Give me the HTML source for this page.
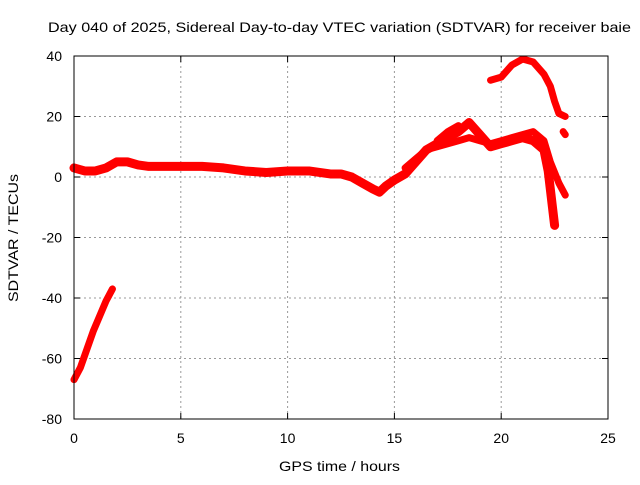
<!DOCTYPE html>
<html><head><meta charset="utf-8"><style>
body{margin:0;background:#fff;}
svg text{font-family:"Liberation Sans",sans-serif;font-size:14px;fill:#000;}
</style></head><body>
<svg width="640" height="480" id="svg">
<rect width="640" height="480" fill="#fff"/>
<g id="grid"></g>
<g id="series"></g>
<rect x="74" y="56" width="534" height="363" fill="none" stroke="#000" stroke-width="1"/>
<g id="ticks"></g>
<text x="48" y="32" textLength="583" lengthAdjust="spacingAndGlyphs">Day 040 of 2025, Sidereal Day-to-day VTEC variation (SDTVAR) for receiver baie</text>
<text x="279" y="471" textLength="121" lengthAdjust="spacingAndGlyphs">GPS time / hours</text>
<text transform="translate(18,302) rotate(-90)" textLength="128" lengthAdjust="spacingAndGlyphs">SDTVAR / TECUs</text>
</svg>
<script>
const xTicks=[0,5,10,15,20,25];
const yTicks=[40,20,0,-20,-40,-60,-80];
const seriesA=[[0,-67],[0.3,-63],[0.6,-57],[0.9,-51],[1.2,-46],[1.5,-41],[1.8,-37]];
const seriesB=[[0,3],[0.5,2],[1,2],[1.5,3],[2,5],[2.5,5],[3,4],[3.5,3.5],[4,3.5],[5,3.5],[6,3.5],[7,3],[8,2],[9,1.5],[10,2],[11,2],[12,1],[12.5,1],[13,0],[13.5,-2],[14,-4],[14.3,-5],[14.6,-3],[15,-1],[15.5,1],[16,5],[16.5,9],[17,11],[17.5,13],[18,15],[18.5,18],[19,14],[19.5,10],[20,11],[20.5,12],[21,13],[21.5,12],[22,9],[22.2,2],[22.4,-10],[22.5,-16]];
const seriesC=[[15.5,3],[16,6],[16.5,9],[17,10],[17.5,11],[18,12],[18.5,13],[19,12],[19.5,11],[20,12],[20.5,13],[21,14],[21.5,15],[22,12],[22.3,5],[22.7,-2],[23,-6]];
const seriesE=[[17,12],[17.5,15],[18,17]];
const seriesD=[[19.5,32],[20,33],[20.5,37],[21,39],[21.5,38],[22,34],[22.3,30],[22.5,25],[22.7,21],[23,20]];
const seriesF=[[22.9,15],[23,14]];
const NS="http://www.w3.org/2000/svg";
const X=v=>74+v*(534/25), Y=v=>56+(40-v)*(363/120);
const grid=document.getElementById('grid'),ticks=document.getElementById('ticks'),ser=document.getElementById('series');
function mk(tag,at,p){const e=document.createElementNS(NS,tag);for(const k in at)e.setAttribute(k,at[k]);p.appendChild(e);return e;}
xTicks.forEach(t=>{const x=X(t);
 if(t>0&&t<25){const l=mk('line',{x1:x,x2:x,y1:56,y2:419,stroke:'#999','stroke-dasharray':'2,3'},grid);
 
 }
 mk('line',{x1:x,x2:x,y1:419,y2:413,stroke:'#000'},ticks);mk('line',{x1:x,x2:x,y1:56,y2:62,stroke:'#000'},ticks);
 const tx=mk('text',{x:x,y:443,'text-anchor':'middle'},ticks);tx.textContent=t;
 
 });
yTicks.forEach(t=>{const y=Y(t);
 if(t>-80&&t<40){const l=mk('line',{x1:74,x2:608,y1:y,y2:y,stroke:'#999','stroke-dasharray':'2,3'},grid);
 
 }
 mk('line',{x1:74,x2:80,y1:y,y2:y,stroke:'#000'},ticks);mk('line',{x1:608,x2:602,y1:y,y2:y,stroke:'#000'},ticks);
 const tx=mk('text',{x:62,y:y+5,'text-anchor':'end'},ticks);tx.textContent=t;
 
 });
[seriesA,seriesB,seriesC,seriesD,seriesE,seriesF].forEach((s,i)=>{
 const p=mk('polyline',{points:s.map(d=>X(d[0])+','+Y(d[1])).join(' '),fill:'none',stroke:'#f00','stroke-width':i==1?9:7,'stroke-linejoin':'round','stroke-linecap':'round'},ser);
 
 });
</script>
</body></html>
